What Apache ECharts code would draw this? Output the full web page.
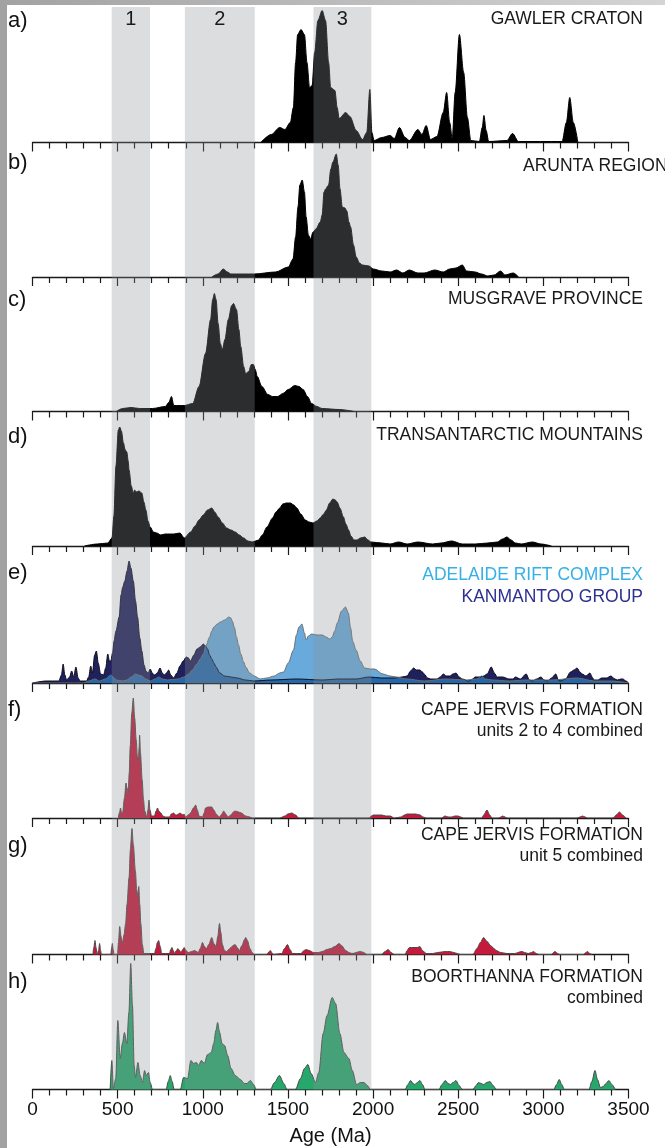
<!DOCTYPE html>
<html>
<head>
<meta charset="utf-8">
<title>Detrital zircon age spectra</title>
<script src="https://cdn.jsdelivr.net/npm/echarts@6/dist/echarts.min.js"></script>
<style>
  html, body { margin: 0; padding: 0; background: #ffffff; }
  #chart { width: 665px; height: 1148px; }
</style>
</head>
<body>
<div id="chart"></div>
<script>
// ---- Age axis ----
const AGE_MIN = 0;
const AGE_MAX = 3500;
const AGE_STEP = 500;
const AXIS_TITLE = 'Age (Ma)';

// ---- Age populations (Ma) ----
const populationLabels = ['1', '2', '3'];
const populationStart = [465, 895, 1650];
const populationEnd = [690, 1305, 1990];

// ---- Relative probability density per region (arbitrary units) ----
const gawlerAge = [1340,1402,1452,1482,1514,1532,1545,1557,1577,1597,1612,1627,1642,1657,1676,1701,1721,1739,1751,1776,1789,1801,1839,1864,1901,1938,1963,1981,1993,2006,2051,2100,2125,2155,2188,2213,2263,2287,2312,2337,2375,2412,2432,2450,2465,2482,2507,2532,2554,2574,2624,2641,2651,2664,2679,2786,2819,2854,3110,3135,3155,3176,3203];
const gawlerDensity = [0,8,15,13,20,35,80,108,113,108,80,55,57,90,122,132,122,80,55,52,35,24,30,26,12,3,10,53,10,2,5,7,4,15,5,2,13,8,17,3,6,30,50,20,4,50,108,70,25,2,1,15,27,12,1,2,9,1,1,20,45,20,0];

const aruntaAge = [1053,1090,1120,1145,1165,1302,1427,1502,1530,1545,1559,1570,1584,1597,1607,1620,1632,1648,1664,1690,1701,1712,1721,1739,1752,1764,1784,1795,1806,1819,1835,1846,1858,1868,1885,1901,1920,1938,1976,2001,2051,2100,2138,2175,2213,2263,2300,2362,2412,2450,2487,2524,2549,2599,2637,2674,2711,2749,2774,2824,2854];
const aruntaDensity = [0,3,8,5,3,3,5,10,18,40,70,92,97,85,60,42,38,45,48,55,62,85,88,92,108,115,123,112,88,70,69,66,55,50,32,20,14,12,11,8,6,5,7,4,7,4,4,7,5,8,9,12,6,5,3,1,2,6,2,4,0];

const musgraveAge = [492,529,579,629,704,780,800,816,830,860,891,941,978,1016,1046,1058,1068,1078,1090,1103,1115,1130,1150,1170,1180,1198,1212,1223,1240,1252,1270,1285,1297,1308,1320,1347,1382,1410,1440,1470,1502,1540,1565,1589,1615,1639,1670,1701,1801,1889];
const musgraveDensity = [0,3,4,3,3,5,9,15,6,6,6,8,25,58,92,112,118,112,88,68,62,72,92,106,108,102,82,65,45,38,40,47,47,42,35,25,17,15,15,18,22,26,25,22,15,8,5,3,2,0];

const transantarcticAge = [305,380,442,467,478,490,504,512,522,534,545,554,562,567,580,592,600,609,625,642,654,666,678,691,710,729,754,779,804,830,866,891,929,955,978,1003,1028,1053,1070,1090,1115,1140,1165,1190,1215,1240,1265,1290,1310,1327,1350,1377,1410,1430,1452,1470,1490,1514,1535,1552,1575,1602,1625,1647,1670,1689,1710,1726,1745,1764,1778,1789,1805,1826,1840,1856,1870,1888,1905,1926,1951,1970,1988,2051,2100,2150,2200,2263,2350,2400,2462,2524,2600,2674,2730,2760,2786,2810,2836,2870,2936,2986,3048];
const transantarcticDensity = [0,2,3,8,30,80,116,119,115,103,96,94,85,76,60,53,56,54,55,53,44,36,25,19,14,13,11,12,12,12,13,8,14,20,26,31,36,38,34,29,23,18,16,14,11,8,5,4,5,6,11,19,28,34,38,42,43,43,41,38,32,26,24,23,25,28,32,36,43,47,46,44,38,29,22,16,10,6,6,8,9,6,4,3,2,4,2,4,2,3,5,2,2,3,4,7,9,6,3,2,4,2,0];

const kanmantooAge = [0,80,155,170,180,190,200,218,230,242,255,268,280,317,330,342,352,365,375,386,400,417,430,442,452,460,470,479,490,509,520,530,542,555,567,578,592,605,617,630,642,655,666,680,691,703,716,733,749,762,774,787,799,812,829,848,866,885,903,916,928,948,966,985,1003,1016,1028,1040,1053,1065,1078,1100,1128,1165,1203,1250,1302,1400,1552,1700,1801,1900,1976,2050,2125,2170,2200,2220,2238,2255,2275,2290,2300,2320,2337,2375,2395,2412,2430,2450,2470,2487,2505,2524,2562,2585,2599,2630,2649,2670,2694,2712,2729,2761,2799,2820,2836,2865,2899,2918,2936,2960,2986,3005,3023,3048,3073,3088,3098,3130,3160,3180,3198,3215,3228,3250,3273,3290,3298,3320,3342,3370,3397,3420,3435,3455,3467,3485,3500];
const kanmantooDensity = [0,2,2,8,19,8,3,6,12,6,16,5,2,2,6,17,10,28,32,20,9,8,15,29,22,22,30,42,52,66,88,96,102,112,122,115,102,82,66,45,32,18,12,10,14,10,8,10,15,10,8,10,13,8,5,10,17,22,26,25,22,28,34,36,39,37,34,28,24,20,16,10,7,6,5,3,2,3,4,3,4,4,6,5,5,6,7,12,15,13,13,11,9,5,4,4,6,9,7,7,9,10,6,4,2,4,6,6,7,9,16,10,6,6,4,4,6,4,9,3,2,4,6,3,2,5,9,3,2,4,11,13,15,11,9,7,10,5,3,3,5,5,7,4,3,4,4,2,0];

const adelaideAge = [0,300,330,367,392,429,460,480,492,530,554,580,604,620,642,665,691,720,741,765,791,853,890,916,940,966,985,1003,1020,1040,1053,1065,1085,1103,1128,1153,1165,1173,1185,1198,1210,1223,1240,1252,1275,1302,1337,1376,1420,1452,1474,1502,1533,1550,1565,1582,1597,1607,1620,1640,1670,1700,1725,1745,1760,1775,1790,1815,1838,1855,1868,1880,1900,1925,1950,1980,2008,2057,2100,2135,2200,2300,2424,2549,2610,2637,2660,2699,2799,2900,3048,3198,3298,3400,3500];
const adelaideDensity = [0,0,2,4,2,4,8,5,3,2,3,6,9,8,7,4,2,4,6,4,3,4,6,9,13,19,24,29,38,46,52,56,59,61,63,66,65,62,56,46,38,29,21,16,10,7,4,5,7,10,11,20,33,48,56,59,50,43,47,49,48,48,46,44,46,52,60,72,76,70,55,42,33,22,15,14,14,9,7,6,4,2,4,3,4,7,4,3,2,3,3,5,2,2,0];

const jervisLowerAge = [504,512,517,523,529,540,549,555,562,568,574,583,592,600,609,616,622,626,629,634,644,652,659,671,678,684,690,699,716,726,734,742,754,766,779,804,815,829,840,848,857,866,875,883,890,898,915,928,945,958,968,978,998,1008,1016,1030,1053,1065,1078,1098,1112,1123,1135,1148,1165,1180,1190,1210,1227,1252,1275,1290,1452,1482,1500,1522,1545,1564,1976,1990,2001,2025,2051,2075,2100,2125,2163,2185,2200,2225,2250,2275,2295,2312,2400,2424,2440,2462,2480,2499,2515,2529,2637,2650,2669,2685,2699,2736,2750,2761,2775,2786,3198,3215,3230,3245,3260,3410,3428,3447,3465,3485];
const jervisLowerDensity = [0,6,10,5,5,20,35,30,25,45,72,105,120,100,78,62,58,70,83,65,38,18,7,1,8,18,8,2,2,7,10,7,5,2,1,1,4,5,3,3,4,5,4,3,4,1,3,5,10,13,8,2,1,5,10,11,11,8,4,1,4,7,4,1,3,6,7,6,5,2,1,0,0,2,4,5,3,0,0,2,3,3,3,2,2,0,1,3,4,4,4,3,1,0,0,2,1,1,2,2,1,0,0,3,8,3,0,0,1,2,1,0,0,1,2,1,0,0,3,6,3,0];

const jervisUpperAge = [355,360,367,373,380,388,394,400,405,460,465,469,474,479,499,505,512,520,529,538,547,555,567,575,584,592,604,612,617,621,624,630,636,645,654,716,725,733,741,750,759,804,812,819,826,834,845,854,863,873,882,891,900,916,935,953,963,973,985,998,1010,1021,1035,1053,1065,1078,1088,1098,1106,1115,1128,1140,1152,1165,1178,1190,1202,1215,1230,1245,1252,1262,1277,1290,1302,1377,1390,1397,1405,1415,1464,1480,1497,1512,1527,1577,1595,1607,1625,1651,1680,1701,1730,1751,1775,1801,1815,1839,1860,1876,1926,1945,1963,2051,2070,2088,2105,2125,2188,2200,2213,2240,2260,2275,2290,2312,2350,2380,2424,2450,2474,2495,2512,2586,2610,2630,2649,2670,2690,2710,2724,2750,2786,2830,2874,2890,2911,2930,2943,2958,2973,3048,3068,3085,3093,3236,3250,3260,3272,3285];
const jervisUpperDensity = [0,7,14,7,0,4,11,4,0,0,7,11,5,0,0,12,28,18,12,20,31,50,77,105,126,110,84,65,59,63,68,50,31,10,1,1,6,12,14,8,1,1,5,7,4,1,4,6,4,2,5,7,4,2,3,4,3,2,6,12,8,6,10,17,11,8,18,31,22,10,4,3,5,7,9,10,7,4,9,15,17,14,6,2,0,0,3,4,2,0,1,6,10,5,1,1,4,5,4,2,2,3,5,6,8,11,9,4,2,1,3,2,0,0,3,5,2,0,0,4,7,7,7,8,4,1,1,2,3,3,2,1,0,0,6,12,17,13,9,6,4,2,1,1,3,2,1,2,3,1,0,0,3,1,0,0,2,3,1,0];

const boorthannaAge = [456,466,475,489,501,515,528,540,554,566,577,587,597,605,619,632,646,658,668,681,691,705,785,797,809,820,832,868,887,911,930,946,962,976,991,1009,1028,1050,1064,1077,1087,1099,1113,1128,1146,1166,1191,1221,1244,1260,1279,1299,1313,1397,1421,1450,1476,1495,1544,1574,1597,1617,1636,1662,1681,1707,1730,1760,1780,1805,1829,1858,1878,1903,1927,1946,1966,1985,2188,2205,2220,2235,2245,2260,2275,2290,2305,2387,2405,2424,2440,2454,2470,2487,2505,2524,2586,2605,2619,2635,2649,2668,2686,2705,2724,3061,3078,3093,3108,3123,3268,3285,3303,3318,3335,3352,3368,3385,3402,3422];
const boorthannaDensity = [0,29,1,11,69,31,46,57,46,77,126,84,24,12,27,14,7,19,14,17,7,0,0,8,14,8,0,0,12,11,29,26,27,24,29,26,35,37,46,59,67,57,46,44,34,21,14,10,6,6,9,5,0,0,7,14,6,0,0,11,21,25,16,7,17,56,74,92,86,56,37,31,19,5,7,7,4,0,0,5,9,6,5,7,9,5,0,0,5,9,6,5,7,9,4,0,0,4,7,6,5,7,8,4,0,0,5,10,5,0,0,8,19,10,2,3,6,9,5,0];

// ---- Panel headings ----
const panelLetters = ['a)', 'b)', 'c)', 'd)', 'e)', 'f)', 'g)', 'h)'];

// ---- Layout ----
const PLOT_LEFT = 32.5;
const PLOT_WIDTH = 596;
const PANEL_HEIGHT = 135;
const baselines = [142.5, 277, 411.5, 546, 683, 818, 954.5, 1089.5];
const letterY = [21, 163, 300, 437, 573, 710, 846, 982];
const FONT = '"Liberation Sans", Arial, Helvetica, sans-serif';

const zip = (xs, ys) => xs.map((x, i) => [x, ys[i]]);

const panels = [
  [{ age: gawlerAge, dens: gawlerDensity, fill: '#000000', line: '#000000' }],
  [{ age: aruntaAge, dens: aruntaDensity, fill: '#000000', line: '#000000' }],
  [{ age: musgraveAge, dens: musgraveDensity, fill: '#000000', line: '#000000' }],
  [{ age: transantarcticAge, dens: transantarcticDensity, fill: '#000000', line: '#000000' }],
  [
    { age: kanmantooAge, dens: kanmantooDensity, fill: '#1f215c', line: '#0d0d1a' },
    { age: adelaideAge, dens: adelaideDensity, fill: 'rgba(40,134,204,0.70)', line: '#6e6e6e' }
  ],
  [{ age: jervisLowerAge, dens: jervisLowerDensity, fill: '#c41a3b', line: '#4a4a4a' }],
  [{ age: jervisUpperAge, dens: jervisUpperDensity, fill: '#c41a3b', line: '#4a4a4a' }],
  [{ age: boorthannaAge, dens: boorthannaDensity, fill: '#26a86c', line: '#4a4a4a' }]
];

const grids = [], xAxes = [], yAxes = [], series = [];

panels.forEach((layers, i) => {
  const last = i === panels.length - 1;
  grids.push({ left: PLOT_LEFT, width: PLOT_WIDTH, top: baselines[i] - PANEL_HEIGHT, height: PANEL_HEIGHT });
  xAxes.push({
    type: 'value', gridIndex: i, min: AGE_MIN, max: AGE_MAX, interval: AGE_STEP,
    axisLine: { show: true, onZero: false, lineStyle: { color: '#1a1a1a', width: 1.3 } },
    axisTick: { show: true, length: 9, lineStyle: { color: '#1a1a1a', width: 1.2 } },
    minorTick: { show: true, splitNumber: 5, length: 6, lineStyle: { color: '#1a1a1a', width: 1.2 } },
    splitLine: { show: false },
    axisLabel: { show: last, margin: 11, fontSize: 19, color: '#111', fontFamily: FONT, formatter: v => String(v) },
    name: last ? AXIS_TITLE : '',
    nameLocation: 'middle', nameGap: 37,
    nameTextStyle: { fontSize: 20, color: '#111', fontFamily: FONT }
  });
  yAxes.push({ type: 'value', gridIndex: i, min: 0, max: PANEL_HEIGHT, show: false });
  layers.forEach(layer => {
    series.push({
      type: 'line', xAxisIndex: i, yAxisIndex: i,
      data: zip(layer.age, layer.dens),
      showSymbol: false, symbol: 'none',
      smooth: 0.3, smoothMonotone: 'x',
      lineStyle: { color: layer.line, width: 1 },
      areaStyle: { color: layer.fill, opacity: 1 },
      silent: true, z: 2
    });
  });
});

// Population bands, laid over every panel
const bandGrid = grids.length;
grids.push({ left: PLOT_LEFT, width: PLOT_WIDTH, top: 7, height: baselines[7] - 7 });
xAxes.push({ type: 'value', gridIndex: bandGrid, min: AGE_MIN, max: AGE_MAX, show: false });
yAxes.push({ type: 'value', gridIndex: bandGrid, min: 0, max: 1, show: false });
series.push({
  type: 'line', xAxisIndex: bandGrid, yAxisIndex: bandGrid,
  data: [], showSymbol: false, silent: true, z: 10,
  markArea: {
    silent: true,
    z: 20,
    itemStyle: { color: 'rgba(143,145,150,0.31)' },
    label: { show: true, position: 'insideTop', distance: 2, fontSize: 20, color: '#1a1a1a', fontFamily: FONT },
    data: populationLabels.map((name, k) => [
      { name: name, xAxis: populationStart[k] },
      { xAxis: populationEnd[k] }
    ])
  }
});

// Headings
const texts = [];
const addText = (text, x, y, align, color, size) => texts.push({
  type: 'text', x: x, y: y, silent: true, z: 20,
  style: { text: text, fill: color, font: size + 'px ' + FONT, textAlign: align, align: align, textVerticalAlign: 'middle', verticalAlign: 'middle' }
});
panelLetters.forEach((t, i) => addText(t, 8, letterY[i], 'left', '#111', 22));
const R = 643;
const TS = 17.5;
addText('GAWLER CRATON', R, 19, 'right', '#1a1a1a', TS);
addText('ARUNTA REGION', 523, 166, 'left', '#1a1a1a', TS);
addText('MUSGRAVE PROVINCE', R, 299, 'right', '#1a1a1a', TS);
addText('TRANSANTARCTIC MOUNTAINS', R, 435, 'right', '#1a1a1a', TS);
addText('ADELAIDE RIFT COMPLEX', R, 575, 'right', '#35b1e6', TS);
addText('KANMANTOO GROUP', R, 597, 'right', '#2e3192', TS);
addText('CAPE JERVIS FORMATION', R, 710, 'right', '#1a1a1a', TS);
addText('units 2 to 4 combined', R, 731, 'right', '#1a1a1a', TS);
addText('CAPE JERVIS FORMATION', R, 835, 'right', '#1a1a1a', TS);
addText('unit 5 combined', R, 856, 'right', '#1a1a1a', TS);
addText('BOORTHANNA FORMATION', R, 977, 'right', '#1a1a1a', TS);
addText('combined', R, 998, 'right', '#1a1a1a', TS);

// Page frame edges
texts.push({ type: 'rect', shape: { x: 0, y: 0, width: 7, height: 1148 }, style: { fill: '#a2a2a2' }, silent: true, z: 30 });
texts.push({
  type: 'rect', shape: { x: 0, y: 0, width: 665, height: 5 }, silent: true, z: 30,
  style: { fill: new echarts.graphic.LinearGradient(0, 0, 1, 0, [{ offset: 0, color: '#a2a2a2' }, { offset: 1, color: '#d4d4d4' }]) }
});

const chart = echarts.init(document.getElementById('chart'), null, { renderer: 'canvas' });
chart.setOption({
  animation: false,
  backgroundColor: '#ffffff',
  grid: grids,
  xAxis: xAxes,
  yAxis: yAxes,
  series: series,
  graphic: { elements: texts }
});
</script>
</body>
</html>
